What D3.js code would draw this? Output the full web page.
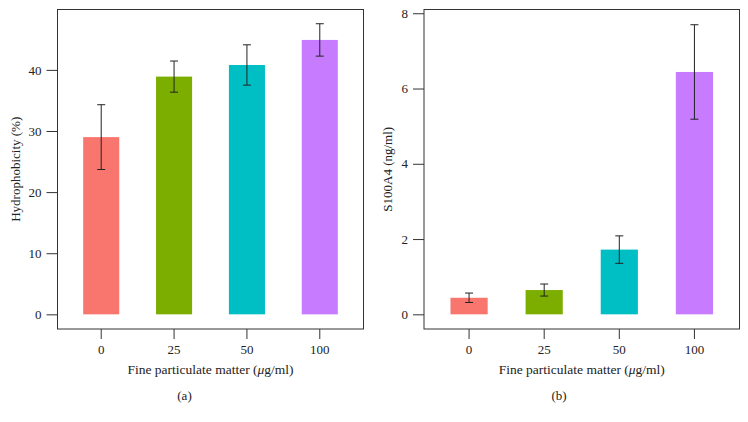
<!DOCTYPE html>
<html>
<head>
<meta charset="utf-8">
<script src="https://cdn.jsdelivr.net/npm/d3@7"></script>
<style>
  body { margin: 0; background: #fff; }
  svg text { font-family: "Liberation Serif", "DejaVu Serif", serif; fill: #222; }
</style>
</head>
<body>
<div id="chart"></div>
<script>
const doses   = ["0", "25", "50", "100"];
const colors  = ["#F8766D", "#7CAE00", "#00BFC4", "#C77CFF"];

// (a) hydrophobicity, mean and half-width of error bar
const hydroMean = [29.0, 38.9, 40.8, 44.9];
const hydroErr  = [5.3, 2.55, 3.3, 2.65];
const hydroTicks = [0, 10, 20, 30, 40];

// (b) S100A4
const s100Mean = [0.44, 0.645, 1.72, 6.44];
const s100Err  = [0.125, 0.16, 0.365, 1.255];
const s100Ticks = [0, 2, 4, 6, 8];

const W = 748, H = 422;
const FONT = '"Liberation Serif", "DejaVu Serif", serif';

const svg = d3.select("#chart")
  .append("svg")
  .attr("width", W)
  .attr("height", H);

function drawPanel(opts) {
  const { box, domain, ticks, mean, err, yTitle, tag, tagX, yTitleX } = opts;

  const x = d3.scaleBand()
    .domain(doses)
    .range([box.left, box.right])
    .paddingInner(0.505)
    .paddingOuter(0.3525);

  const y = d3.scaleLinear()
    .domain(domain)
    .range([box.bottom, box.top]);

  const g = svg.append("g");
  const cx = i => x(doses[i]) + x.bandwidth() / 2;

  // bars
  g.selectAll("rect.bar")
    .data(mean)
    .join("rect")
    .attr("class", "bar")
    .attr("x", (_, i) => x(doses[i]))
    .attr("width", x.bandwidth())
    .attr("y", d => y(d))
    .attr("height", d => y(0) - y(d))
    .attr("fill", (_, i) => colors[i]);

  // error bars
  const cap = 4;
  const eb = g.selectAll("g.err")
    .data(mean)
    .join("g")
    .attr("class", "err")
    .attr("stroke", "#222")
    .attr("stroke-width", 1);

  eb.append("line")
    .attr("x1", (_, i) => cx(i))
    .attr("x2", (_, i) => cx(i))
    .attr("y1", (d, i) => y(d - err[i]))
    .attr("y2", (d, i) => y(d + err[i]));
  eb.append("line")
    .attr("x1", (_, i) => cx(i) - cap)
    .attr("x2", (_, i) => cx(i) + cap)
    .attr("y1", (d, i) => y(d + err[i]))
    .attr("y2", (d, i) => y(d + err[i]));
  eb.append("line")
    .attr("x1", (_, i) => cx(i) - cap)
    .attr("x2", (_, i) => cx(i) + cap)
    .attr("y1", (d, i) => y(d - err[i]))
    .attr("y2", (d, i) => y(d - err[i]));

  // frame
  g.append("rect")
    .attr("x", box.left)
    .attr("y", box.top)
    .attr("width", box.right - box.left)
    .attr("height", box.bottom - box.top)
    .attr("fill", "none")
    .attr("stroke", "#333")
    .attr("stroke-width", 1);

  // y axis
  const yAxis = g.append("g")
    .attr("transform", `translate(${box.left},0)`)
    .call(d3.axisLeft(y).tickValues(ticks).tickSize(11).tickPadding(5));
  yAxis.select(".domain").remove();

  // x axis
  const xAxis = g.append("g")
    .attr("transform", `translate(0,${box.bottom})`)
    .call(d3.axisBottom(x).tickSize(10).tickPadding(6));
  xAxis.select(".domain").remove();

  g.selectAll(".tick line").attr("stroke", "#333");
  g.selectAll(".tick text")
    .style("font-family", FONT)
    .style("font-size", "13px")
    .attr("fill", "#222");

  // x title
  const xt = g.append("text")
    .attr("x", (box.left + box.right) / 2)
    .attr("y", 374)
    .attr("text-anchor", "middle")
    .style("font-size", "13.5px");
  xt.append("tspan").text("Fine particulate matter (");
  xt.append("tspan").style("font-style", "italic").text("\u03bc");
  xt.append("tspan").text("g/ml)");

  // y title
  g.append("text")
    .attr("transform", `translate(${yTitleX},${(box.top + box.bottom) / 2}) rotate(-90)`)
    .attr("text-anchor", "middle")
    .style("font-size", "13px")
    .text(yTitle);

  // panel tag
  g.append("text")
    .attr("x", tagX)
    .attr("y", 400)
    .attr("text-anchor", "middle")
    .style("font-size", "13px")
    .text(tag);
}

drawPanel({
  box: { left: 57.5, right: 363.5, top: 9.5, bottom: 329 },
  domain: [-2.4, 49.88],
  ticks: hydroTicks,
  mean: hydroMean,
  err: hydroErr,
  yTitle: "Hydrophobicity (%)",
  yTitleX: 19.5,
  tag: "(a)",
  tagX: 184.5
});

drawPanel({
  box: { left: 424, right: 739.5, top: 9.5, bottom: 329 },
  domain: [-0.39, 8.1],
  ticks: s100Ticks,
  mean: s100Mean,
  err: s100Err,
  yTitle: "S100A4 (ng/ml)",
  yTitleX: 391.5,
  tag: "(b)",
  tagX: 559
});
</script>
</body>
</html>
